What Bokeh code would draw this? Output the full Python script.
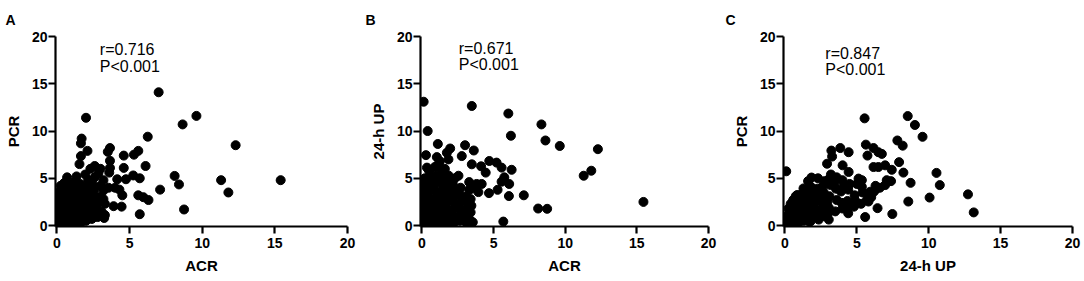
from bokeh.plotting import figure
from bokeh.layouts import row
from bokeh.models import Range1d, FixedTicker, Label
from bokeh.embed import file_html
from bokeh.resources import INLINE

# ---------------- data ----------------
tick_values = [0, 5, 10, 15, 20]

panel_letters = ["A", "B", "C"]
x_titles = ["ACR", "ACR", "24-h UP"]
y_titles = ["PCR", "24-h UP", "PCR"]
r_texts = ["r=0.716", "r=0.671", "r=0.847"]
p_texts = ["P<0.001", "P<0.001", "P<0.001"]

# Panel A: ACR (x) vs PCR (y)
panel_a_points = [
    (7.0, 14.1), (9.6, 11.6), (2.0, 11.4), (8.65, 10.7), (6.25, 9.4), (12.3, 8.5),
    (15.4, 4.8), (11.3, 4.8), (11.8, 3.5), (8.1, 5.25), (8.4, 4.35), (8.75, 1.7),
    (7.1, 3.8), (5.6, 3.2), (5.95, 3.0), (6.3, 2.7), (5.7, 1.2), (6.1, 6.3),
    (5.3, 7.5), (5.6, 7.9), (4.6, 7.4), (4.6, 6.1), (4.75, 4.9), (5.25, 5.3),
    (5.7, 5.0), (4.5, 3.2), (4.45, 2.0), (3.9, 2.05), (3.3, 1.1), (3.1, 1.4),
    (3.65, 8.2), (3.5, 7.8), (3.65, 6.85), (3.65, 6.1), (3.6, 5.6), (4.15, 4.9),
    (4.0, 4.0), (3.55, 4.0), (3.2, 3.7), (4.3, 3.8), (3.2, 4.8),
    (1.7, 9.2), (1.65, 8.7), (2.1, 7.9), (1.65, 7.35), (1.55, 6.5), (2.6, 6.3),
    (3.0, 6.0), (2.3, 6.0), (2.6, 5.1), (2.85, 5.5),
    (0.05, 0.1), (0.1, 0.6), (0.05, 1.2), (0.15, 1.8), (0.08, 2.4), (0.12, 3.0),
    (0.2, 3.6), (0.25, 4.2), (0.1, 2.9),
    (0.4, 0.2), (0.45, 0.9), (0.38, 1.5), (0.5, 2.1), (0.42, 2.7), (0.48, 3.3),
    (0.55, 3.9), (0.5, 4.5),
    (0.8, 0.1), (0.75, 0.7), (0.85, 1.3), (0.78, 1.9), (0.9, 2.5), (0.82, 3.1),
    (0.88, 3.7), (0.95, 4.3), (0.7, 5.1),
    (1.2, 0.3), (1.15, 0.9), (1.25, 1.5), (1.3, 2.1), (1.18, 2.7), (1.22, 3.3),
    (1.28, 3.9), (1.2, 4.6), (1.35, 5.2),
    (1.6, 0.2), (1.55, 0.8), (1.65, 1.4), (1.58, 2.0), (1.7, 2.6), (1.62, 3.2),
    (1.68, 3.8), (1.6, 4.4),
    (2.0, 0.5), (2.05, 1.1), (1.95, 1.7), (2.1, 2.3), (2.0, 2.9), (2.05, 3.5),
    (2.1, 4.1), (2.15, 4.8), (1.95, 5.4),
    (2.4, 0.7), (2.45, 1.3), (2.35, 1.9), (2.5, 2.5), (2.4, 3.1), (2.55, 3.7),
    (2.45, 4.4),
    (2.8, 0.9), (2.85, 1.6), (2.75, 2.3), (2.9, 3.0), (2.8, 2.6), (3.0, 4.2),
    (3.25, 0.8), (3.3, 2.3), (3.2, 2.8),
]

# Panel B: ACR (x) vs 24-h UP (y)
panel_b_points = [
    (0.12, 13.1), (0.4, 10.0), (3.48, 12.65), (6.03, 11.85), (8.34, 10.7),
    (6.21, 9.5), (8.62, 9.0), (9.62, 8.42), (12.28, 8.08), (11.82, 5.8),
    (11.29, 5.27), (15.46, 2.5), (8.11, 1.8), (8.74, 1.77), (5.68, 0.42),
    (7.11, 3.2), (6.07, 3.12), (6.26, 5.9), (6.09, 4.4), (5.75, 5.1), (5.56, 4.64),
    (5.28, 3.78), (5.56, 6.13), (5.21, 6.66), (4.7, 6.83), (4.45, 5.6), (4.13, 6.27),
    (3.48, 6.48), (3.62, 7.94), (4.68, 3.43), (4.17, 4.4), (3.48, 3.9), (3.55, 0.35),
    (3.01, 8.5), (2.78, 7.35), (1.97, 8.15), (1.74, 7.7), (1.85, 7.0), (1.11, 8.63),
    (1.04, 7.24), (0.28, 7.45), (1.16, 6.48), (0.35, 6.13), (2.55, 5.27),
    (3.82, 4.4), (3.94, 3.54),
    (0.05, 0.2), (0.1, 0.9), (0.05, 1.6), (0.12, 2.3), (0.08, 3.0), (0.15, 3.7),
    (0.1, 4.4), (0.2, 5.0),
    (0.45, 0.1), (0.5, 0.8), (0.4, 1.5), (0.55, 2.2), (0.45, 2.9), (0.5, 3.6),
    (0.6, 4.3), (0.55, 5.0), (0.5, 5.8),
    (0.9, 0.3), (0.85, 1.0), (0.95, 1.7), (0.88, 2.4), (1.0, 3.1), (0.9, 3.8),
    (0.95, 4.5), (1.0, 5.3), (0.9, 6.2),
    (1.3, 0.1), (1.35, 0.8), (1.25, 1.5), (1.4, 2.2), (1.3, 2.9), (1.35, 3.6),
    (1.45, 4.3), (1.3, 5.0), (1.4, 5.8), (1.25, 6.8),
    (1.75, 0.4), (1.8, 1.1), (1.7, 1.8), (1.85, 2.5), (1.75, 3.2), (1.8, 3.9),
    (1.7, 4.6), (1.85, 5.3), (1.6, 6.0),
    (2.2, 0.2), (2.25, 0.9), (2.15, 1.6), (2.3, 2.3), (2.2, 3.0), (2.25, 3.7),
    (2.15, 4.4), (2.3, 5.0),
    (2.65, 0.5), (2.7, 1.2), (2.6, 1.9), (2.75, 2.6), (2.65, 3.3), (2.7, 4.0),
    (3.1, 0.3), (3.15, 1.0), (3.05, 1.7), (3.2, 2.4), (3.1, 3.1), (3.3, 3.8),
    (3.35, 0.6), (3.4, 1.4), (3.45, 2.1), (3.4, 2.8), (3.3, 4.6),
]

# Panel C: 24-h UP (x) vs PCR (y)
panel_c_points = [
    (0.09, 5.74), (5.54, 11.34), (8.54, 11.58), (9.04, 10.64), (9.57, 9.39),
    (7.82, 9.0), (8.19, 8.45), (5.63, 8.56), (6.16, 8.2), (6.5, 7.76), (6.74, 7.58),
    (5.74, 7.4), (7.94, 6.71), (6.97, 6.37), (6.5, 6.19), (6.16, 6.19), (7.43, 5.9),
    (8.24, 5.6), (8.74, 4.52), (10.54, 5.57), (10.77, 4.28), (12.73, 3.3),
    (13.13, 1.39), (10.06, 2.96), (8.58, 2.54), (7.47, 1.22), (6.44, 1.84),
    (5.58, 0.9), (7.38, 4.7), (6.97, 4.28), (7.08, 4.8), (6.39, 3.93), (5.93, 3.58),
    (5.81, 2.54), (4.43, 7.76), (3.85, 8.2), (3.23, 7.93), (3.28, 7.3), (2.93, 6.54),
    (4.43, 5.67), (5.12, 4.97), (5.35, 4.8), (4.01, 6.37), (1.85, 5.08), (1.61, 4.7),
    (1.29, 3.93), (0.85, 3.23), (0.58, 2.71), (0.09, 0.97), (3.05, 0.63),
    (2.35, 0.63), (1.78, 0.45),
    (0.05, 0.1), (0.15, 0.5), (0.3, 0.2), (0.35, 0.7), (0.3, 1.3), (0.25, 1.8),
    (0.4, 2.3), (0.6, 0.3), (0.65, 0.9), (0.55, 1.5), (0.7, 2.0), (0.6, 2.6),
    (0.75, 3.1), (0.9, 0.2), (1.0, 0.8), (0.95, 1.4), (1.05, 2.0), (0.9, 2.6),
    (1.0, 3.2), (1.3, 0.5), (1.35, 1.1), (1.25, 1.7), (1.4, 2.3),
    (1.3, 2.9), (1.45, 3.5), (1.7, 0.4), (1.65, 1.0), (1.75, 1.6), (1.7, 2.2),
    (1.8, 2.8), (1.65, 3.4), (1.8, 4.1), (2.1, 0.9), (2.2, 1.5), (2.05, 2.1),
    (2.2, 2.7), (2.1, 3.3), (2.25, 3.9), (2.3, 5.0), (2.6, 1.0),
    (2.55, 1.7), (2.65, 2.3), (2.5, 2.9), (2.7, 3.5), (2.6, 4.1), (2.75, 4.7),
    (3.0, 1.3), (3.05, 1.9), (2.95, 2.5), (3.1, 3.1),
    (3.15, 4.3), (3.05, 4.9), (3.2, 5.4), (3.5, 1.5), (3.6, 2.7),
    (3.55, 3.9), (3.45, 4.5), (3.6, 5.1), (4.0, 1.8),
    (3.95, 2.4), (3.9, 3.6), (4.1, 4.2), (4.0, 4.8),
    (4.4, 1.3), (4.45, 2.0), (4.35, 2.6), (4.4, 3.8), (4.5, 4.4),
    (4.8, 2.0), (4.9, 2.6), (4.85, 3.2), (5.0, 4.4),
    (5.3, 2.3), (5.4, 3.5), (5.35, 4.1), (5.7, 2.7), (5.8, 3.3),
    (6.0, 3.0), (6.2, 3.6), (6.3, 4.2), (6.6, 4.0),
]

# ---------------- figure ----------------
FONT = "Liberation Sans"

panels = [
    dict(pts=panel_a_points, w=360, L=55, R=13, T=33, B=55, tx=2.95, tyr=18.6, typ=16.85, off=-50),
    dict(pts=panel_b_points, w=360, L=60, R=12, T=33, B=55, tx=2.57, tyr=18.78, typ=17.05, off=-55),
    dict(pts=panel_c_points, w=364, L=63, R=12, T=36, B=53, tx=2.81, tyr=18.2, typ=16.46, off=-58),
]

figs = []
for i, cfg in enumerate(panels):
    p = figure(width=cfg["w"], height=281, output_backend="svg", toolbar_location=None,
               x_range=Range1d(-0.1, 20), y_range=Range1d(-0.1, 20),
               min_border_left=cfg["L"], min_border_right=cfg["R"],
               min_border_top=cfg["T"], min_border_bottom=cfg["B"],
               title=panel_letters[i])
    p.title.align = "left"
    p.title.vertical_align = "top"
    p.title.offset = cfg["off"]
    p.title.text_font = FONT
    p.title.text_font_size = "14px"
    p.title.text_font_style = "bold"
    p.title.text_color = "black"
    p.title.standoff = 13
    p.outline_line_color = None
    p.grid.visible = False
    p.background_fill_color = "white"
    p.border_fill_color = "white"

    xs = [pt[0] for pt in cfg["pts"]]
    ys = [pt[1] for pt in cfg["pts"]]
    p.scatter(xs, ys, size=9, color="black", line_color="black")

    for ax in (p.xaxis[0], p.yaxis[0]):
        ax.ticker = FixedTicker(ticks=tick_values)
        ax.axis_line_width = 2.2
        ax.axis_line_color = "black"
        ax.major_tick_line_width = 2.2
        ax.major_tick_line_color = "black"
        ax.major_tick_out = 7
        ax.major_tick_in = 0
        ax.minor_tick_line_color = None
        ax.major_label_text_font = FONT
        ax.major_label_text_font_style = "bold"
        ax.major_label_text_font_size = "14px"
        ax.major_label_text_color = "black"
        ax.axis_label_text_font = FONT
        ax.axis_label_text_font_style = "bold"
        ax.axis_label_text_font_size = "15px"
        ax.axis_label_text_color = "black"
    p.xaxis[0].axis_label = x_titles[i]
    p.yaxis[0].axis_label = y_titles[i]
    p.xaxis[0].major_label_standoff = 4
    p.yaxis[0].major_label_standoff = 1
    p.xaxis[0].axis_label_standoff = 6
    p.yaxis[0].axis_label_standoff = 7

    p.add_layout(Label(x=cfg["tx"], y=cfg["tyr"], text=r_texts[i], text_font=FONT,
                       text_font_size="16px", text_color="black", text_baseline="alphabetic"))
    p.add_layout(Label(x=cfg["tx"], y=cfg["typ"], text=p_texts[i], text_font=FONT,
                       text_font_size="16px", text_color="black", text_baseline="alphabetic"))
    figs.append(p)

layout = row(*figs)
open("out.html", "w").write(file_html(layout, INLINE))
